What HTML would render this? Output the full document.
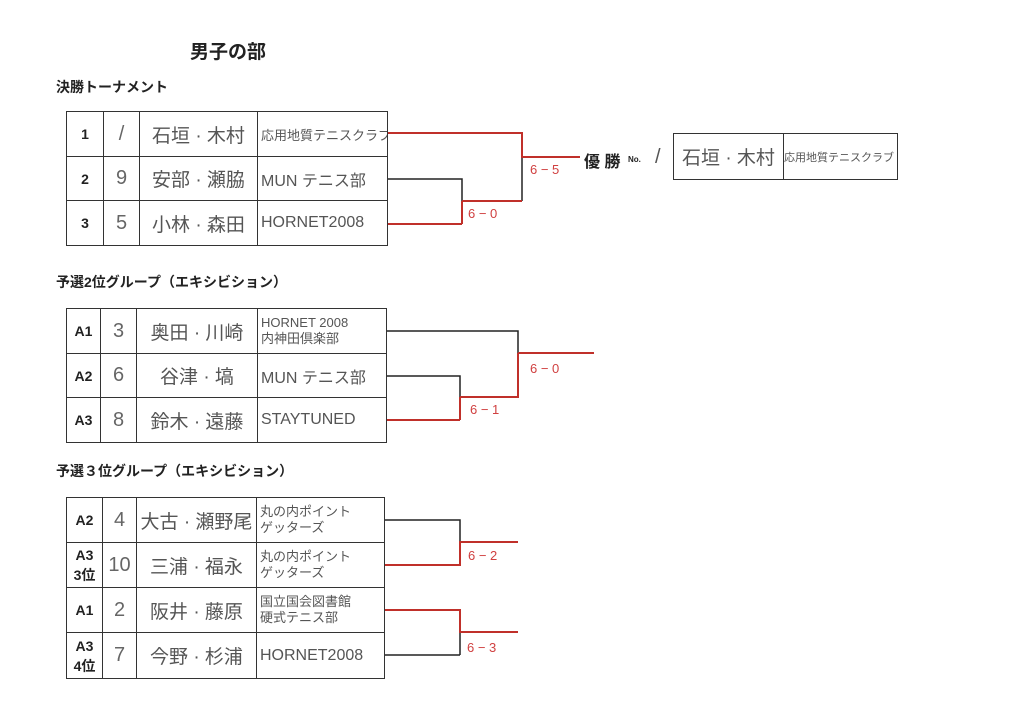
<!DOCTYPE html>
<html><head><meta charset="utf-8"><style>
body{margin:0;width:1024px;height:725px;background:#fff;position:relative;overflow:hidden;font-family:"Liberation Sans","Noto Sans CJK JP",sans-serif;}
.t{position:absolute;white-space:nowrap;}
.b{font-weight:bold;color:#222;}
table{position:absolute;border-collapse:collapse;table-layout:fixed;}
td{border:1.5px solid #333;padding:0;text-align:center;vertical-align:middle;color:#555;font-size:19px;overflow:hidden;white-space:nowrap;}
td.h{font-weight:bold;color:#222;font-size:14px;line-height:20px;}
td.n{font-size:20px;color:#666;}
td.c{font-size:16px;text-align:left;padding-left:3px;}
td.c2{font-size:13px;line-height:16px;text-align:left;padding-left:3px;}
svg{position:absolute;left:0;top:0;}
</style></head><body>
<div class="t b" style="left:190px;top:37px;font-size:19px;">男子の部</div>
<div class="t b" style="left:56px;top:77px;font-size:14px;">決勝トーナメント</div>
<div class="t b" style="left:56px;top:272px;font-size:14px;">予選2位グループ（エキシビション）</div>
<div class="t b" style="left:56px;top:461px;font-size:14px;">予選３位グループ（エキシビション）</div>

<table style="left:66px;top:111px;width:322px;">
<tr style="height:45px"><td class="h" style="width:36px">1</td><td class="n" style="width:35px">/</td><td style="width:117px">石垣 · 木村</td><td class="c" style="font-size:13px">応用地質テニスクラブ</td></tr>
<tr style="height:44px"><td class="h">2</td><td class="n">9</td><td>安部 · 瀬脇</td><td class="c">MUN テニス部</td></tr>
<tr style="height:45px"><td class="h">3</td><td class="n">5</td><td>小林 · 森田</td><td class="c">HORNET2008</td></tr>
</table>

<table style="left:66px;top:308px;width:321px;">
<tr style="height:45px"><td class="h" style="width:33px">A1</td><td class="n" style="width:35px">3</td><td style="width:120px">奥田 · 川崎</td><td class="c2">HORNET 2008<br>内神田倶楽部</td></tr>
<tr style="height:44px"><td class="h">A2</td><td class="n">6</td><td>谷津 · 塙</td><td class="c">MUN テニス部</td></tr>
<tr style="height:45px"><td class="h">A3</td><td class="n">8</td><td>鈴木 · 遠藤</td><td class="c">STAYTUNED</td></tr>
</table>

<table style="left:66px;top:497px;width:319px;">
<tr style="height:45px"><td class="h" style="width:35px">A2</td><td class="n" style="width:33px">4</td><td style="width:119px">大古 · 瀬野尾</td><td class="c2">丸の内ポイント<br>ゲッターズ</td></tr>
<tr style="height:45px"><td class="h">A3<br>3位</td><td class="n">10</td><td>三浦 · 福永</td><td class="c2">丸の内ポイント<br>ゲッターズ</td></tr>
<tr style="height:45px"><td class="h">A1</td><td class="n">2</td><td>阪井 · 藤原</td><td class="c2">国立国会図書館<br>硬式テニス部</td></tr>
<tr style="height:46px"><td class="h">A3<br>4位</td><td class="n">7</td><td>今野 · 杉浦</td><td class="c">HORNET2008</td></tr>
</table>

<svg width="1024" height="725" fill="none" stroke-width="1.5">
<g stroke="#222">
<path d="M388 179H462V224M462 201H522"/>
<path d="M522 201V157"/>
<path d="M387 331H518V353M387 376H460V420"/>
<path d="M385 520H460V542M460 655V632M385 655H460"/>
</g>
<g stroke="#c0302a" stroke-width="2">
<path d="M388 133H522V157H580"/>
<path d="M388 224H462M462 201V224M462 201H522"/>
<path d="M518 353H594"/>
<path d="M387 420H460M460 397V420M460 397H518V353"/>
<path d="M385 565H460V542H518"/>
<path d="M385 610H460V632H518"/>
</g>
<g fill="#d04040" font-size="13" font-family="Liberation Sans, sans-serif">
<text x="530" y="174">6 − 5</text>
<text x="468" y="218">6 − 0</text>
<text x="530" y="373">6 − 0</text>
<text x="470" y="414">6 − 1</text>
<text x="468" y="560">6 − 2</text>
<text x="467" y="652">6 − 3</text>
</g>
</svg>

<div class="t b" style="left:584px;top:148px;font-size:16px;">優 勝</div>
<div class="t b" style="left:628px;top:155px;font-size:8px;">No.</div>
<div class="t" style="left:655px;top:146px;font-size:20px;color:#555;">/</div>
<table style="left:673px;top:133px;width:225px;">
<tr style="height:46px"><td style="width:109px">石垣 · 木村</td><td style="font-size:11px;text-align:left">応用地質テニスクラブ</td></tr>
</table>
</body></html>
